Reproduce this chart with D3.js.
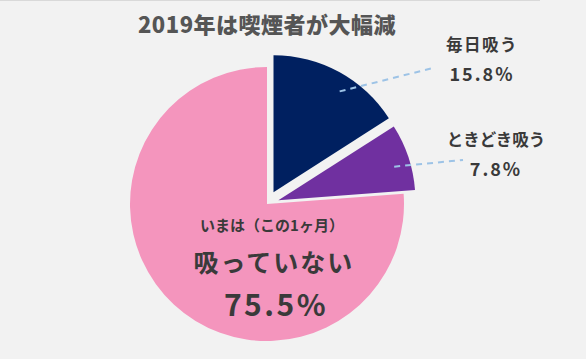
<!DOCTYPE html>
<html><head><meta charset="utf-8">
<script src="https://cdn.jsdelivr.net/npm/d3@7"></script>
<style>
html,body{margin:0;padding:0;background:#f2f2f2;}
svg{display:block;font-family:"Noto Sans CJK JP","Noto Sans",sans-serif;}
</style></head>
<body>
<script>
// ---- data ----
const title = "2019年は喫煙者が大幅減";
const categories = ["毎日吸う", "ときどき吸う", "吸っていない"];
const values = [15.8, 7.8, 75.5];
const valueLabels = ["15.8%", "7.8%", "75.5%"];
const pinkSubLabel = "いまは（この1ヶ月）";
const colors = ["#002060", "#7030a0", "#f495bd"];
const explode = [13.5, 12, 0];

const W = 586, H = 359;
const cx = 267, cy = 204, R = 137;

const svg = d3.select("body").append("svg").attr("width", W).attr("height", H);
svg.append("rect").attr("width", W).attr("height", H).attr("fill", "#f2f2f2");
svg.append("line").attr("x1", 0).attr("x2", 540).attr("y1", 0.5).attr("y2", 0.5)
  .attr("stroke", "#d9d9d9").attr("stroke-width", 1);

svg.append("text").attr("x", 267).attr("y", 33).attr("text-anchor", "middle")
  .attr("font-size", 22).attr("font-weight", 900).attr("letter-spacing", 0.5)
  .attr("fill", "#555555").text(title);

const pie = d3.pie().sort(null).value(d => d)(values);
const arc = d3.arc().innerRadius(0).outerRadius(R);

const g = svg.append("g").attr("transform", `translate(${cx},${cy})`);
const offs = pie.map((p, i) => {
  const m = (p.startAngle + p.endAngle) / 2;
  return [Math.sin(m) * explode[i], -Math.cos(m) * explode[i]];
});
g.selectAll("path.slice").data(pie).join("path")
  .attr("class", "slice")
  .attr("transform", (d, i) => `translate(${offs[i][0]},${offs[i][1]})`)
  .attr("d", arc).attr("fill", (d, i) => colors[i]);

// leader lines & outside labels for first two slices
const labelPos = [[482, 75], [496, 170]];   // layout anchors (value-label centers)
const lineEnd = [[433, 68], [463, 160]];
[0, 1].forEach(i => {
  const p = pie[i];
  const a = p.startAngle + 0.58 * (p.endAngle - p.startAngle);
  const rr = 0.88 * R;
  const sx = cx + offs[i][0] + Math.sin(a) * rr;
  const sy = cy + offs[i][1] - Math.cos(a) * rr;
  svg.append("line").attr("x1", sx).attr("y1", sy)
    .attr("x2", lineEnd[i][0]).attr("y2", lineEnd[i][1])
    .attr("stroke", "#9dc3e6").attr("stroke-width", 2).attr("stroke-dasharray", "6,5");
  svg.append("text").attr("x", labelPos[i][0]).attr("y", labelPos[i][1] - 24)
    .attr("text-anchor", "middle").attr("font-size", 16.5).attr("font-weight", 700)
    .attr("letter-spacing", i === 0 ? 1.5 : 0).attr("fill", "#3a3a3a").text(categories[i]);
  svg.append("text").attr("x", labelPos[i][0]).attr("y", labelPos[i][1] + 6)
    .attr("text-anchor", "middle").attr("font-size", 18).attr("font-weight", 700)
    .attr("letter-spacing", 2).attr("fill", "#3a3a3a").text(valueLabels[i]);
});

// inside labels of the big slice
svg.append("text").attr("x", 272).attr("y", 231).attr("text-anchor", "middle")
  .attr("font-size", 15).attr("font-weight", 700).attr("fill", "#3a3a3a").text(pinkSubLabel);
svg.append("text").attr("x", 274).attr("y", 272).attr("text-anchor", "middle")
  .attr("font-size", 25).attr("font-weight", 700).attr("letter-spacing", 2)
  .attr("fill", "#3a3a3a").text(categories[2]);
svg.append("text").attr("x", 276).attr("y", 316).attr("text-anchor", "middle")
  .attr("font-size", 30).attr("font-weight", 700).attr("letter-spacing", 2.5)
  .attr("fill", "#3a3a3a").text(valueLabels[2]);
</script>
</body></html>
